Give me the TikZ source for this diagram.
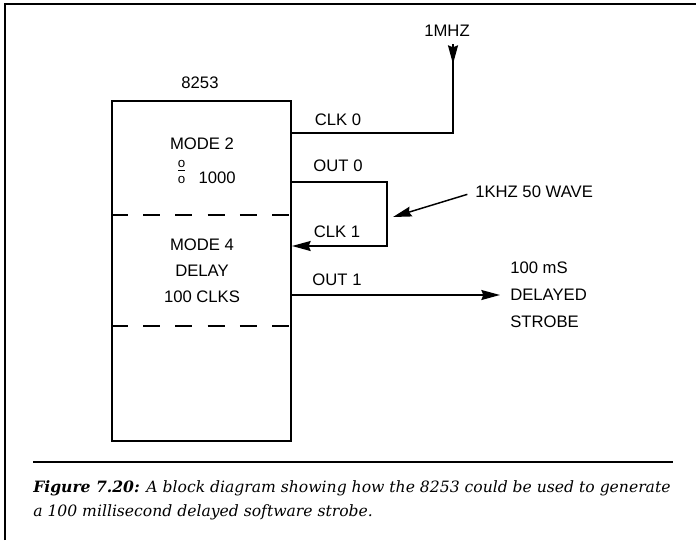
\documentclass[tikz,border=0pt]{standalone}
\usepackage{fontspec}
\setmainfont{Liberation Sans}
\newfontfamily\capfont{DejaVu Serif}
\usetikzlibrary{arrows.meta, positioning}
\newcommand{\divsign}{{\fontsize{10}{11}\selectfont\ooalign{o\cr\raisebox{11.5pt}{o}\cr\hidewidth\raisebox{8.8pt}{\rule{5pt}{0.8pt}}\hidewidth\cr}}}

\begin{document}
\begin{tikzpicture}[
        x=0.75pt, y=-0.75pt,
        chip/.style={rectangle, draw=black, line width=1.5pt, minimum width=134.25pt, minimum height=255pt, inner sep=0pt},
        lbl/.style={font=\fontsize{12.5}{15}\selectfont, inner sep=0pt},
        caption/.style={font=\capfont\itshape\fontsize{11.7}{18}\selectfont, inner sep=0pt, anchor=base west},
        wire/.style={line width=1.1pt},
        sig/.style={wire, -{Stealth[length=14pt, width=7.5pt, inset=1.5pt]}},
        sep/.style={line width=1.1pt, dash pattern=on 12.75pt off 11.4pt}
    ]
        \useasboundingbox (0,0) rectangle (696,540);
        \coordinate (frametop) at (5,4);
        \draw[line width=1.5pt] (5,540) -- (frametop) -- (696,4);

        \node[chip] (chip) at (201.5,271) {};
        \node[lbl] (chipname) at (200,83) {8253};

        \coordinate (splitone) at (0,215);
        \coordinate (splittwo) at (0,326);
        \draw[sep] (chip.west |- splitone) -- (chip.east |- splitone);
        \draw[sep] (chip.west |- splittwo) -- (chip.east |- splittwo);

        \node[lbl] (modetwo) at (202,144) {MODE 2};
        \node[lbl, anchor=base east] (thousand) at (236,183) {\divsign\hspace{10pt}1000};
        \node[lbl] (modefour) at (202,245) {MODE 4};
        \node[lbl] (delay) at (202,271) {DELAY};
        \node[lbl] (count) at (202,297) {100 CLKS};

        \node[lbl] (mhz) at (447,31) {1MHZ};
        \node[lbl] (clkzerolbl) at (338,120) {CLK 0};
        \node[lbl] (outzerolbl) at (338,166) {OUT 0};
        \node[lbl] (clkonelbl) at (337,232) {CLK 1};
        \node[lbl] (outonelbl) at (337,280) {OUT 1};
        \node[lbl, anchor=west] (wave) at (475,192) {1KHZ 50 WAVE};
        \node[lbl, anchor=west, align=left, font=\fontsize{12.5}{20.25}\selectfont] (strobe) at (510,295) {100 mS\\DELAYED\\STROBE};

        \coordinate (mhzin) at (453,44);
        \coordinate (clkzero) at (453,133);
        \coordinate (loop) at (387,182);
        \coordinate (clkone) at (387,246);
        \coordinate (wavetip) at (393,217);
        \coordinate (strobetip) at (500,295);

        \draw[wire] (mhzin) -- (clkzero) -- (chip.east |- clkzero);
        \draw[sig] (mhzin) -- ++(0,20);
        \draw[sig] (chip.east |- loop) -- (loop) -- (clkone) -- (chip.east |- clkone);
        \draw[sig, shorten <=6pt] (wave.west) -- (wavetip);
        \draw[sig] (chip.east |- strobetip) -- (strobetip);

        \coordinate (ruleleft) at (33,462);
        \coordinate (ruleright) at (673,462);
        \draw[line width=0.9pt] (ruleleft) -- (ruleright);
        \node[caption] (capone) at (33,492) {\textbf{Figure 7.20:} A block diagram showing how the 8253 could be used to generate};
        \node[caption] (captwo) at (33,516) {a 100 millisecond delayed software strobe.};
    \end{tikzpicture}
\end{document}
